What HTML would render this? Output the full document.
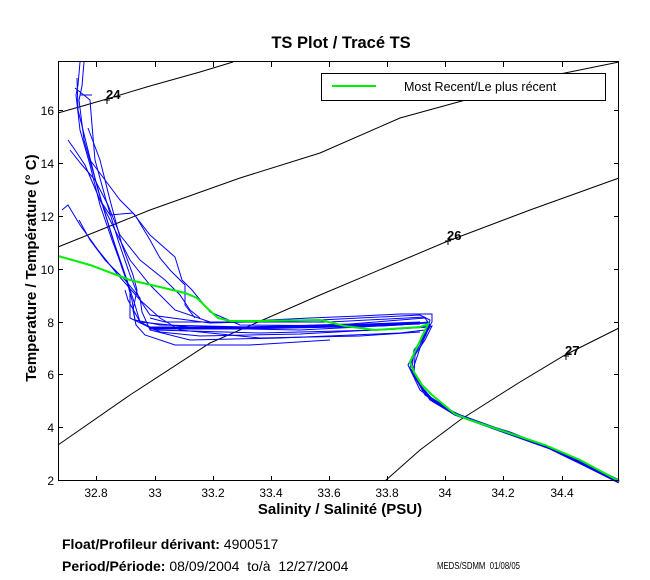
<!DOCTYPE html>
<html><head><meta charset="utf-8"><style>
html,body{margin:0;padding:0;background:#fff;}
svg{display:block;font-family:"Liberation Sans",Arial,sans-serif;}
</style></head><body>
<svg width="650" height="580" viewBox="0 0 650 580" xmlns="http://www.w3.org/2000/svg">
<rect width="650" height="580" fill="#fff"/>
<text x="341" y="48" font-size="16.5" font-weight="bold" text-anchor="middle">TS Plot / Tracé TS</text>
<g fill="none" stroke="#000" stroke-width="1">
<polyline points="58,113 100,101 150,86 200,72 233,62"/>
<polyline points="58,247 150,210 240,178 320,153 400,118 480,96 560,74 619,62"/>
<polyline points="58,445 130,395 210,343 320,295 403,260 448,241 530,210 619,178"/>
<polyline points="385,481 420,450 460,420 520,382 565,355 619,328"/>
</g>
<g stroke="#000" stroke-width="1">
<line x1="107" y1="97" x2="107" y2="104"/><line x1="104" y1="100" x2="110" y2="100"/>
<line x1="448" y1="238" x2="448" y2="245"/><line x1="445" y1="241" x2="451" y2="241"/>
<line x1="566" y1="353" x2="566" y2="360"/><line x1="563" y1="356" x2="569" y2="356"/>
</g>
<g font-size="13" font-weight="bold">
<text x="106" y="99">24</text><text x="447" y="240">26</text><text x="565" y="355">27</text>
</g>
<g fill="none" stroke="#0000ff" stroke-width="1">
<polyline points="80,62 78,85 76,95 80,130 90,165 100,205 112,240 125,275 132,300 135,320 160,325 250,327 350,324 425,318 430,325 420,345 410,362 415,378 430,400 455,415 500,430 545,446 580,462 619,481"/>
<polyline points="84,62 82,86 79,100 84,140 94,175 104,210 115,245 127,280 135,305 140,322 200,328 300,330 400,325 428,322 426,335 414,350 412,370 420,385 435,402 460,416 505,432 548,447 585,464 617,481"/>
<polyline points="77,78 78,110 88,150 98,190 110,230 122,268 130,290 130,318 155,330 260,333 380,330 430,327 418,345 408,365 420,390 440,405 470,420 510,432 550,448 590,466 619,480"/>
<polyline points="75,88 90,100 92,125 95,160 106,200 118,240 130,275 140,300 150,315 210,323 320,320 420,315 430,320 428,330 420,348 412,372 425,395 450,412"/>
<polyline points="68,140 75,150 85,165 100,200 115,230 130,260 150,285 175,310 210,322 330,322 425,317"/>
<polyline points="70,150 82,165 95,180 108,205 120,235 140,260 165,280 180,295 190,310 200,318"/>
<polyline points="62,210 68,205 80,225 98,250 118,275 140,300 160,318 180,330 260,338 360,336 420,332"/>
<polyline points="100,200 110,215 133,213 150,235 175,257 182,280 192,290 210,312 240,325 380,326 428,323"/>
<polyline points="90,160 105,180 120,200 135,215 150,240 160,258 170,270 185,285 185,305 195,318"/>
<polyline points="79,220 90,240 105,260 125,280 140,298 142,312 150,330 190,340 280,338 400,333 425,330"/>
<polyline points="88,128 100,160 110,200 122,245 133,275 137,290 133,310 136,325 145,335 175,345 250,345 330,340"/>
<polyline points="125,290 128,300 140,322 160,332 200,336 300,334 410,328 432,326 425,340 415,355 414,375"/>
<polyline points="80,95 92,95"/>
<polyline points="150,318 165,322 230,322 310,318 360,316 400,314 432,314 432,322 426,332 418,345"/>
<polyline points="415,350 410,368 418,382 430,398 455,415 520,437 570,456 619,480"/>
</g>
<g stroke="#0000ff" stroke-width="3" fill="none">
<polyline points="150,328 240,328 340,326 420,323"/>
<polyline points="430,398 455,414 505,432 550,448 585,465 619,482"/>
</g>
<polyline fill="none" stroke="#00ee00" stroke-width="2" points="58,256 90,265 130,280 160,287 185,293 197,298 207,308 218,318 230,321 260,321 320,320 345,326 375,330 420,327 428,324 418,345 410,362 414,372 422,385 432,395 455,414 470,420 500,430 545,445 580,460 619,481"/>
<rect x="58.5" y="61.5" width="560" height="419" fill="none" stroke="#000" stroke-width="1"/>
<g stroke="#000" stroke-width="1">
<line x1="96.5" y1="481" x2="96.5" y2="476"/><line x1="155.5" y1="481" x2="155.5" y2="476"/><line x1="213.5" y1="481" x2="213.5" y2="476"/><line x1="271.5" y1="481" x2="271.5" y2="476"/><line x1="329.5" y1="481" x2="329.5" y2="476"/><line x1="387.5" y1="481" x2="387.5" y2="476"/><line x1="445.5" y1="481" x2="445.5" y2="476"/><line x1="503.5" y1="481" x2="503.5" y2="476"/><line x1="562.5" y1="481" x2="562.5" y2="476"/>
<line x1="96.5" y1="62" x2="96.5" y2="67"/><line x1="155.5" y1="62" x2="155.5" y2="67"/><line x1="213.5" y1="62" x2="213.5" y2="67"/><line x1="271.5" y1="62" x2="271.5" y2="67"/><line x1="329.5" y1="62" x2="329.5" y2="67"/><line x1="387.5" y1="62" x2="387.5" y2="67"/><line x1="445.5" y1="62" x2="445.5" y2="67"/><line x1="503.5" y1="62" x2="503.5" y2="67"/><line x1="562.5" y1="62" x2="562.5" y2="67"/>
<line x1="58" y1="480.5" x2="63" y2="480.5"/><line x1="58" y1="427.5" x2="63" y2="427.5"/><line x1="58" y1="374.5" x2="63" y2="374.5"/><line x1="58" y1="322.5" x2="63" y2="322.5"/><line x1="58" y1="269.5" x2="63" y2="269.5"/><line x1="58" y1="216.5" x2="63" y2="216.5"/><line x1="58" y1="163.5" x2="63" y2="163.5"/><line x1="58" y1="110.5" x2="63" y2="110.5"/>
<line x1="619" y1="427.5" x2="614" y2="427.5"/><line x1="619" y1="374.5" x2="614" y2="374.5"/><line x1="619" y1="322.5" x2="614" y2="322.5"/><line x1="619" y1="269.5" x2="614" y2="269.5"/><line x1="619" y1="216.5" x2="614" y2="216.5"/><line x1="619" y1="163.5" x2="614" y2="163.5"/><line x1="619" y1="110.5" x2="614" y2="110.5"/>
</g>
<g font-size="12" text-anchor="middle">
<text x="96" y="497">32.8</text><text x="155" y="497">33</text><text x="213" y="497">33.2</text><text x="271" y="497">33.4</text><text x="329" y="497">33.6</text><text x="387" y="497">33.8</text><text x="445" y="497">34</text><text x="503" y="497">34.2</text><text x="562" y="497">34.4</text>
</g>
<g font-size="12" text-anchor="end">
<text x="54" y="485">2</text><text x="54" y="432">4</text><text x="54" y="379">6</text><text x="54" y="327">8</text><text x="54" y="274">10</text><text x="54" y="221">12</text><text x="54" y="168">14</text><text x="54" y="115">16</text>
</g>
<text x="340" y="514" font-size="15" font-weight="bold" text-anchor="middle">Salinity / Salinité (PSU)</text>
<text transform="translate(36,268) rotate(-90)" font-size="15" font-weight="bold" text-anchor="middle">Temperature / Température (° C)</text>
<rect x="321.5" y="73.5" width="284" height="27" fill="#fff" stroke="#000"/>
<line x1="332" y1="86" x2="376" y2="86" stroke="#00ee00" stroke-width="2"/>
<text x="404" y="91" font-size="12.5">Most Recent/Le plus récent</text>
<text x="62" y="549" font-size="14"><tspan font-weight="bold">Float/Profileur dérivant:</tspan> 4900517</text>
<text x="62" y="571" font-size="14"><tspan font-weight="bold">Period/Période:</tspan> 08/09/2004 &#160;to/à &#160;12/27/2004</text>
<text x="437" y="569" font-size="10.5" textLength="83" lengthAdjust="spacingAndGlyphs">MEDS/SDMM &#160;01/08/05</text>
</svg>
</body></html>
